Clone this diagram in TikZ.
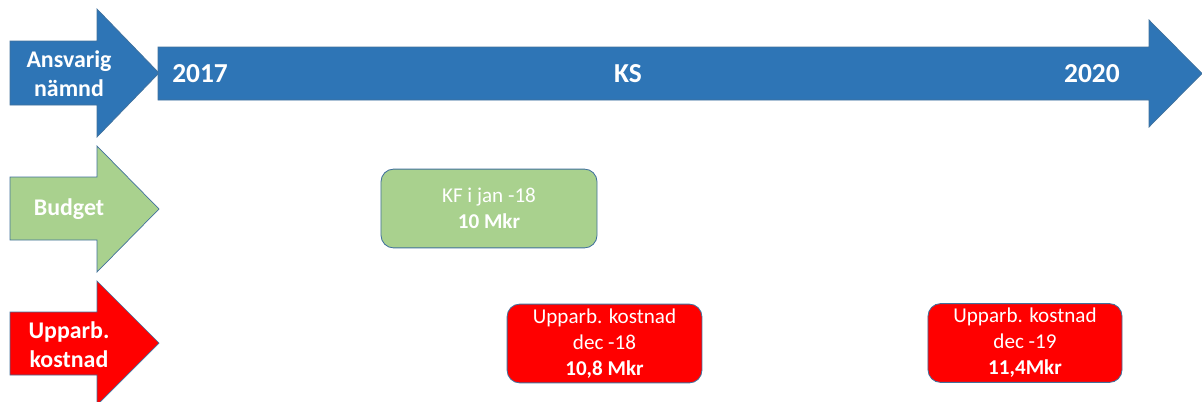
\documentclass[tikz,border=0pt]{standalone}
\usepackage{fontspec}
\setmainfont{Carlito}
\usepackage{tikz}

\definecolor{kblue}{HTML}{2E75B6}
\definecolor{kgreen}{HTML}{A9D18E}
\definecolor{kred}{HTML}{FF0000}
\definecolor{kedge}{HTML}{41719C}

\begin{document}
\begin{tikzpicture}[%
x=0.025cm, y=-0.025cm,%
pil/.style={draw=kedge, line width=0.5pt},%
rad/.style={font=\fontsize{17}{20.5}\selectfont\bfseries, text=white, align=center, inner sep=0pt},%
ar/.style={font=\fontsize{19.5}{22}\selectfont\bfseries, text=white, inner sep=0pt},%
ruta/.style={draw=kedge, line width=0.6pt, rounded corners=9pt, text=white, align=center,%
  font=\fontsize{15}{18.5}\selectfont, inner sep=0pt, minimum height=1.97cm},%
  ]
    \clip (0,0) rectangle (1202,401);

    % pilar till vänster
    \draw[pil, fill=kblue] (10,41) -- (97,41) -- (97,9) -- (159,73) -- (97,137) -- (97,105) -- (10,105) -- cycle;
    \draw[pil, fill=kgreen] (10,177) -- (97,177) -- (97,146) -- (159,209) -- (97,272) -- (97,240) -- (10,240) -- cycle;
    \draw[pil, fill=kred] (10,312) -- (97,312) -- (97,281) -- (159,343) -- (97,405) -- (97,375) -- (10,375) -- cycle;

    % tidslinje
    \draw[pil, fill=kblue] (158,47) -- (1149,47) -- (1149,20) -- (1202,73.5) -- (1149,127) -- (1149,100) -- (158,100) -- cycle;

    \node[rad] (namnd) at (69,74) {Ansvarig\\nämnd};
    \node[rad] (budget) at (69,209) {Budget};
    \node[rad] (upparb) at (69,345) {Upparb.\\kostnad};

    \node[ar, anchor=west] (y2017) at (172,74) {2017};
    \node[ar] (ks) at (628,74) {KS};
    \node[ar, anchor=east] (y2020) at (1120,74) {2020};

    \node[ruta, fill=kgreen, minimum width=5.4cm] (kf) at (489,208.5) {KF i jan -18\\\textbf{10 Mkr}};
    \node[ruta, fill=kred, minimum width=4.87cm] (dec18) at (604.5,343.5) {Upparb. kostnad\\dec -18\\\textbf{10,8 Mkr}};
    \node[ruta, fill=kred, minimum width=4.85cm] (dec19) at (1025,343) {Upparb. kostnad\\dec -19\\\textbf{11,4Mkr}};
  \end{tikzpicture}
\end{document}
